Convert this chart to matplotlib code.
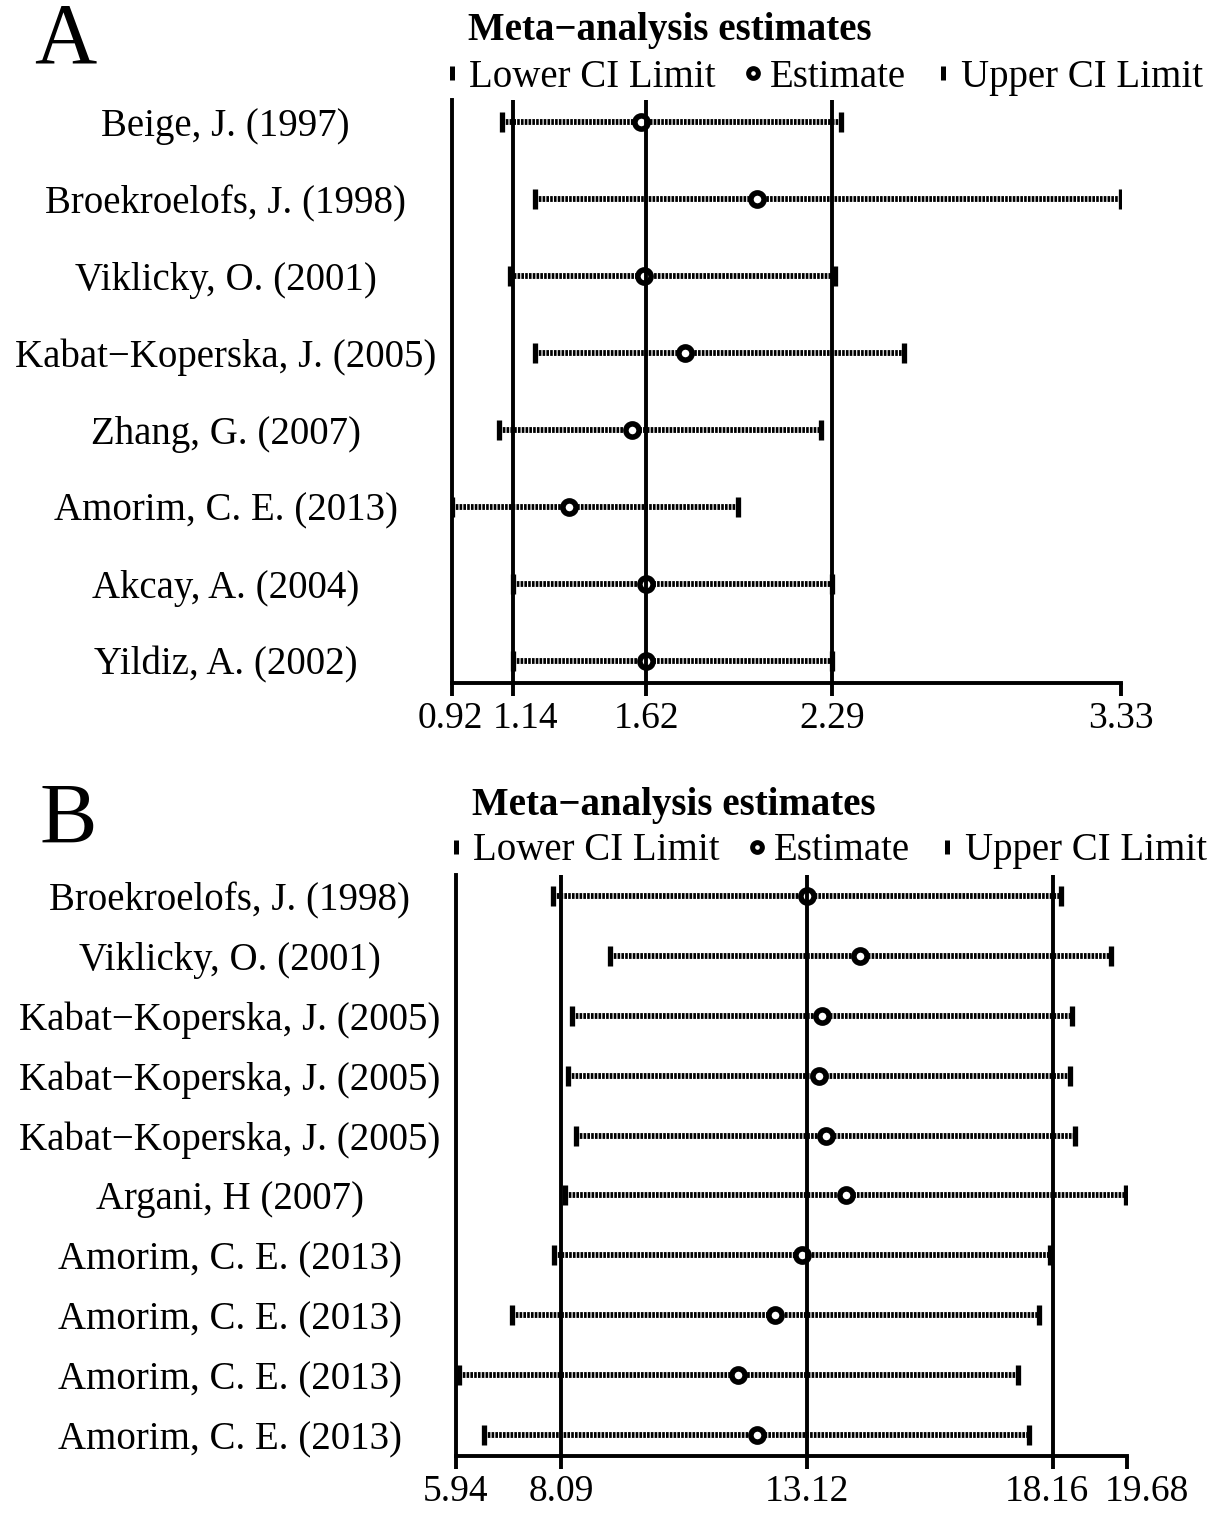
#!/usr/bin/env python3

'''
Sensitivity analysis plots: meta-analysis estimates with one study left out.
Panel A and panel B, each row a study with lower CI, estimate and upper CI.
'''

import matplotlib
matplotlib.use('Agg')
import matplotlib.pyplot as plt
import matplotlib.transforms as mtrans
from matplotlib.lines import Line2D

plt.rcParams['font.family'] = ['Liberation Serif', 'DejaVu Serif']

##############################
# Panel A data

studies_a = ['Beige, J. (1997)', 'Broekroelofs, J. (1998)', 'Viklicky, O. (2001)',
             'Kabat\u2212Koperska, J. (2005)', 'Zhang, G. (2007)', 'Amorim, C. E. (2013)',
             'Akcay, A. (2004)', 'Yildiz, A. (2002)']
lower_a = [1.10, 1.22, 1.13, 1.22, 1.09, 0.92, 1.14, 1.14]
est_a = [1.60, 2.02, 1.61, 1.76, 1.57, 1.34, 1.62, 1.62]
upper_a = [2.32, 3.33, 2.30, 2.55, 2.25, 1.95, 2.29, 2.29]
ticks_a = [0.92, 1.14, 1.62, 2.29, 3.33]
meta_a = [1.14, 1.62, 2.29]

##############################
# Panel B data

studies_b = ['Broekroelofs, J. (1998)', 'Viklicky, O. (2001)',
             'Kabat\u2212Koperska, J. (2005)', 'Kabat\u2212Koperska, J. (2005)',
             'Kabat\u2212Koperska, J. (2005)', 'Argani, H (2007)',
             'Amorim, C. E. (2013)', 'Amorim, C. E. (2013)',
             'Amorim, C. E. (2013)', 'Amorim, C. E. (2013)']
lower_b = [7.93, 9.09, 8.32, 8.23, 8.40, 8.17, 7.95, 7.09, 6.00, 6.51]
est_b = [13.13, 14.21, 13.43, 13.37, 13.52, 13.93, 13.02, 12.47, 11.71, 12.10]
upper_b = [18.33, 19.35, 18.55, 18.51, 18.61, 19.66, 18.10, 17.88, 17.45, 17.67]
ticks_b = [5.94, 8.09, 13.12, 18.16, 19.68]
meta_b = [8.09, 13.12, 18.16]

fs = 28


def draw_panel(ax, studies, lower, est, upper, ticks, meta, letter, letter_xy,
               tick_shift, leg_y):
    n = len(studies)
    ys = list(range(n))
    for y, lo, e, hi in zip(ys, lower, est, upper):
        ax.plot([lo, hi], [y, y], color='k', lw=4.2, ls=(0, (0.45, 0.2)),
                dash_capstyle='butt', zorder=2)
    ax.plot(lower, ys, ls='none', marker='|', ms=14, mew=3.8, color='k', zorder=3)
    ax.plot(upper, ys, ls='none', marker='|', ms=14, mew=3.8, color='k', zorder=3)
    ax.plot(est, ys, ls='none', marker='o', ms=9.5, mew=4, mec='k', mfc='white', zorder=3)
    for m in meta:
        ax.axvline(m, color='k', lw=2.8, zorder=4)

    pad = 0.29 if n == 8 else 0.35
    ax.set_ylim(n - 1 + pad, -pad)
    ax.set_xlim(ticks[0], ticks[-1])
    ax.set_xticks(ticks)
    ax.set_xticklabels([f'{t:.2f}' for t in ticks], fontsize=fs - 1)
    ax.set_yticks(ys)
    ax.set_yticklabels(studies, fontsize=fs, ha='center')
    ax.tick_params(axis='y', length=0, pad=163)
    ax.tick_params(axis='x', length=9, width=2.8, direction='out', pad=4)
    # nudge crowded tick labels apart (after tick_params, which resets transforms)
    for lab, dx in zip(ax.get_xticklabels(), tick_shift):
        lab.set_transform(lab.get_transform() +
                          mtrans.ScaledTranslation(dx / 100, 0, fig.dpi_scale_trans))
    for s in ['top', 'right']:
        ax.spines[s].set_visible(False)
    for s in ['left', 'bottom']:
        ax.spines[s].set_linewidth(2.8)

    ax.text(0.325, 1.12, 'Meta\u2212analysis estimates', transform=ax.transAxes,
            ha='center', va='center', fontsize=fs, fontweight='bold')

    handles = [Line2D([], [], ls='none', marker='|', ms=10, mew=3.6, color='k'),
               Line2D([], [], ls='none', marker='o', ms=7, mew=3.6, mec='k', mfc='white'),
               Line2D([], [], ls='none', marker='|', ms=10, mew=3.6, color='k')]
    ax.legend(handles, ['Lower CI Limit', 'Estimate', 'Upper CI Limit'],
              loc='lower left', bbox_to_anchor=(-0.012, leg_y), ncol=3, frameon=False,
              fontsize=fs, handlelength=0.4, handletextpad=0.25, columnspacing=0.75,
              borderaxespad=0, borderpad=0)

    fig.text(letter_xy[0], letter_xy[1], letter, ha='center', va='center', fontsize=62)


fig = plt.figure(figsize=(12.07, 15.13), dpi=100)
ax_a = fig.add_axes([452 / 1207, 1 - 683 / 1513, 669 / 1207, 583 / 1513])
ax_b = fig.add_axes([456 / 1207, 1 - 1456 / 1513, 671 / 1207, 581 / 1513])

draw_panel(ax_a, studies_a, lower_a, est_a, upper_a, ticks_a, meta_a, 'A',
           (65 / 1207, 1 - 42 / 1513), [-2, 12, 0, 0, 0], 1.007)
draw_panel(ax_b, studies_b, lower_b, est_b, upper_b, ticks_b, meta_b, 'B',
           (68 / 1207, 1 - 822 / 1513), [0, 0, 0, -6, 20], 1.01)

plt.savefig('out.png', dpi=100)
